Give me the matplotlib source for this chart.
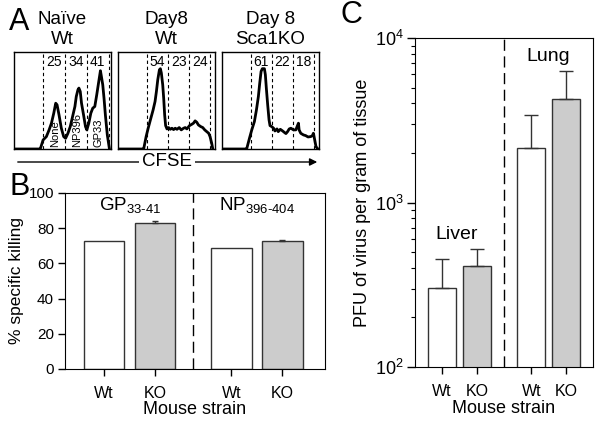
import matplotlib
matplotlib.use("Agg")
import matplotlib.pyplot as plt
import numpy as np

plt.rcParams['font.family'] = ['Liberation Sans', 'DejaVu Sans']
plt.rcParams['mathtext.fontset'] = 'custom'
plt.rcParams['mathtext.rm'] = 'Liberation Sans'
plt.rcParams['mathtext.it'] = 'Liberation Sans'

# ---------------- Panel A data (CFSE histograms, normalized units) ----------------
hist_line1 = ["Naïve", "Day8", "Day 8"]
hist_line2 = ["Wt", "Wt", "Sca1KO"]
naive_x = [0, 26.6, 27.3, 30, 33.4, 36.2, 38.6, 41, 43, 44.4, 46.4, 48.8, 51.2, 53.2, 55.6, 58, 60.8, 62.8,
           64.2, 65.9, 66.9, 68.3, 69.6, 71.7, 73.7, 75.1, 77.1, 79.2, 81.2, 83.3, 85.3, 87.4, 89.1, 90.1,
           91.5, 92.8, 94.2, 96.2, 98.3]
naive_y = [0, 0, 0.7, 9.3, 12.8, 19.7, 26.6, 36.9, 47.2, 45.5, 35.2, 21.4, 12.8, 11, 16.2, 23.1, 35.2, 43.8,
           54.1, 61, 62.8, 59.3, 47.2, 35.2, 23.1, 19.7, 26.6, 36.9, 42.1, 43.8, 55.9, 69.7, 80.7, 74.8,
           66.2, 52.4, 35.2, 14.5, 0.7]
wt8_x = [0, 25.9, 26.6, 29, 31.1, 33.4, 36.2, 38.2, 39.6, 41, 42.7, 43.7, 44.7, 46.1, 47.1, 48.1, 49.1, 50.5,
         52.2, 53.9, 55.6, 57.3, 59, 60.8, 63.1, 65.2, 67.6, 69.3, 71, 73.7, 76.1, 77.8, 79.5, 81.2, 82.9,
         85.3, 87.4, 89.4, 91.5, 93.5, 94.9, 96.6, 97.6]
wt8_y = [0, 0, 0.7, 12.8, 21.4, 30, 40.3, 49, 59.3, 71.4, 81.7, 82.8, 78.3, 66.2, 52.4, 35.2, 24.1, 20.7,
         22.1, 20.3, 21.4, 20, 21.4, 20.3, 22.1, 19.7, 21.4, 22.1, 20.7, 24.1, 25.5, 26.6, 29, 27.6, 24.8,
         23.1, 22.1, 19.7, 17.9, 16.2, 12.8, 5.9, 0.7]
ko8_x = [0, 24.9, 25.6, 28.3, 30.7, 33.4, 35.5, 37.5, 38.9, 40.3, 41.6, 43.7, 44.7, 45.7, 47.1, 48.5, 49.5,
         51.2, 53.2, 54.6, 56.7, 58, 60.1, 62.5, 64.2, 65.9, 67.6, 69.3, 71, 73.7, 76.1, 77.8, 78.8, 79.5,
         81.2, 84, 86.3, 88.7, 91.5, 93.2, 94.2, 95.6, 96.9, 98.3]
ko8_y = [0, 0, 0.7, 11, 19.7, 28.3, 40.3, 54.1, 67.9, 80, 82.8, 82.8, 76.6, 62.8, 45.5, 30, 24.1,
         23.1, 21.4, 18.6, 20.7, 17.9, 20.3, 18.6, 17.2, 15.9, 17.9, 20.7, 21.4, 19.7, 19.7, 24.1, 26.6, 19.7,
         16.2, 14.5, 13.8, 12.4, 12.8, 13.8, 16.2, 9.3, 2.4, 0.7]
gates = [[30, 52.2, 75.1, 97.6], [30, 51.5, 73.7, 94.9], [29.4, 51.2, 73.7, 94.9]]
gate_pcts = [["25", "34", "41"], ["54", "23", "24"], ["61", "22", "18"]]
gate_names = ["None", "NP396", "GP33"]

# ---------------- Panel B data ----------------
b_labels = ["Wt", "KO", "Wt", "KO"]
b_values = [72.5, 83.0, 68.9, 72.7]
b_err = [0, 1.3, 0, 0.4]
b_pos = [0, 1, 2.5, 3.5]

# ---------------- Panel C data ----------------
c_labels = ["Wt", "KO", "Wt", "KO"]
c_values = [304, 412, 2138, 4266]
c_errtop = [451, 519, 3410, 6266]
c_pos = [0, 1, 2.55, 3.55]

colors = ["white", "#cccccc", "white", "#cccccc"]

W, H = 602, 424
fig = plt.figure(figsize=(W / 100, H / 100), dpi=100)


def rect(l, t, r, b):
    return [l / W, 1 - b / H, (r - l) / W, (b - t) / H]


# ---------------- Panel A ----------------
hx = [naive_x, wt8_x, ko8_x]
hy = [naive_y, wt8_y, ko8_y]
lefts = [14, 118, 222]
for i in range(3):
    ax = fig.add_axes(rect(lefts[i], 52, lefts[i] + 97, 149))
    ax.set_xlim(0, 100)
    ax.set_ylim(0, 100)
    ax.set_xticks([])
    ax.set_yticks([])
    for s in ax.spines.values():
        s.set_linewidth(1.0)
    for g in gates[i]:
        ax.plot([g, g], [0, 100], color="black", lw=0.8, ls=(0, (3, 2.5)))
    ax.plot(hx[i], hy[i], color="black", lw=2.0, solid_joinstyle="round")
    for j in range(3):
        cx = (gates[i][j] + gates[i][j + 1]) / 2
        ax.text(cx, 90, gate_pcts[i][j], ha="center", va="center", fontsize=10)
    if i == 0:
        for j in range(3):
            cx = (gates[i][j] + gates[i][j + 1]) / 2 + 1
            ax.text(cx, 2, gate_names[j], ha="center", va="bottom", rotation=90, fontsize=8)
    cxf = (lefts[i] + 48.5) / W
    fig.text(cxf, 1 - 20 / H, hist_line1[i], ha="center", va="center", fontsize=13.5)
    fig.text(cxf, 1 - 39 / H, hist_line2[i], ha="center", va="center", fontsize=13.5)

fig.text(9 / W, 1 - 22 / H, "A", fontsize=22, ha="left", va="center")
# CFSE arrow
fig.add_artist(matplotlib.patches.FancyArrowPatch((15 / W, 1 - 162 / H), (320 / W, 1 - 162 / H),
                                                   transform=fig.transFigure, arrowstyle="-|>",
                                                   mutation_scale=11, lw=1.0, color="black"))
fig.text(167 / W, 1 - 162 / H, "CFSE", fontsize=13.5, ha="center", va="center",
         bbox=dict(facecolor="white", edgecolor="none", pad=2))

# ---------------- Panel B ----------------
axb = fig.add_axes(rect(65, 193, 325, 369))
axb.bar(b_pos, b_values, width=0.8, color=colors, edgecolor="#333333", linewidth=1.0, zorder=2)
axb.errorbar(b_pos[1], b_values[1], yerr=[[0], [b_err[1]]], fmt="none", ecolor="#333333",
             capsize=2.5, elinewidth=1.0, zorder=3)
axb.errorbar(b_pos[3], b_values[3], yerr=[[0], [b_err[3]]], fmt="none", ecolor="#333333",
             capsize=2.5, elinewidth=1.0, zorder=3)
axb.set_xlim(-0.765, 4.34)
axb.set_ylim(0, 100)
axb.set_yticks([0, 20, 40, 60, 80, 100])
axb.set_xticks(b_pos)
axb.set_xticklabels(b_labels, fontsize=11.5)
axb.tick_params(axis="y", labelsize=11, direction="out", length=5, width=1, pad=3)
axb.tick_params(axis="x", direction="out", length=5, width=1, pad=7)
axb.axvline(1.75, color="black", lw=1.0, ls=(0, (8, 4)))
axb.set_ylabel("% specific killing", fontsize=12.5, labelpad=3)
axb.set_xlabel("Mouse strain", fontsize=13, labelpad=0)
axb.text(0.52, 93, r"GP$_{33\text{-}41}$", ha="center", va="center", fontsize=13.5)
axb.text(3.0, 93, r"NP$_{396\text{-}404}$", ha="center", va="center", fontsize=13.5)
fig.text(9 / W, 1 - 187 / H, "B", fontsize=22, ha="left", va="center")

# ---------------- Panel C ----------------
axc = fig.add_axes(rect(415, 38, 593, 367))
axc.bar(c_pos, c_values, width=0.8, color=colors, edgecolor="#333333", linewidth=1.0, zorder=2)
for p, v, e in zip(c_pos, c_values, c_errtop):
    axc.errorbar(p, v, yerr=[[0], [e - v]], fmt="none", ecolor="#333333", capsize=5,
                 elinewidth=1.0, zorder=3)
axc.set_yscale("log")
axc.set_ylim(100, 10000)
axc.set_xlim(-0.77, 4.31)
axc.set_xticks(c_pos)
axc.set_xticklabels(c_labels, fontsize=11.5)
axc.tick_params(axis="y", which="major", labelsize=13, direction="out", length=6, width=1, pad=2)
axc.tick_params(axis="y", which="minor", direction="out", length=3, width=0.8)
axc.tick_params(axis="x", direction="out", length=5, width=1, pad=7)
axc.axvline(1.77, color="black", lw=1.0, ls=(0, (8, 4)))
axc.set_ylabel("PFU of virus per gram of tissue", fontsize=13, labelpad=3)
axc.set_xlabel("Mouse strain", fontsize=13, labelpad=1)
axc.text(0.43, 640, "Liver", ha="center", va="center", fontsize=14)
axc.text(3.03, 7700, "Lung", ha="center", va="center", fontsize=14)
fig.text(340 / W, 1 - 15 / H, "C", fontsize=22, ha="left", va="center")

fig.savefig("out.png", dpi=100)
